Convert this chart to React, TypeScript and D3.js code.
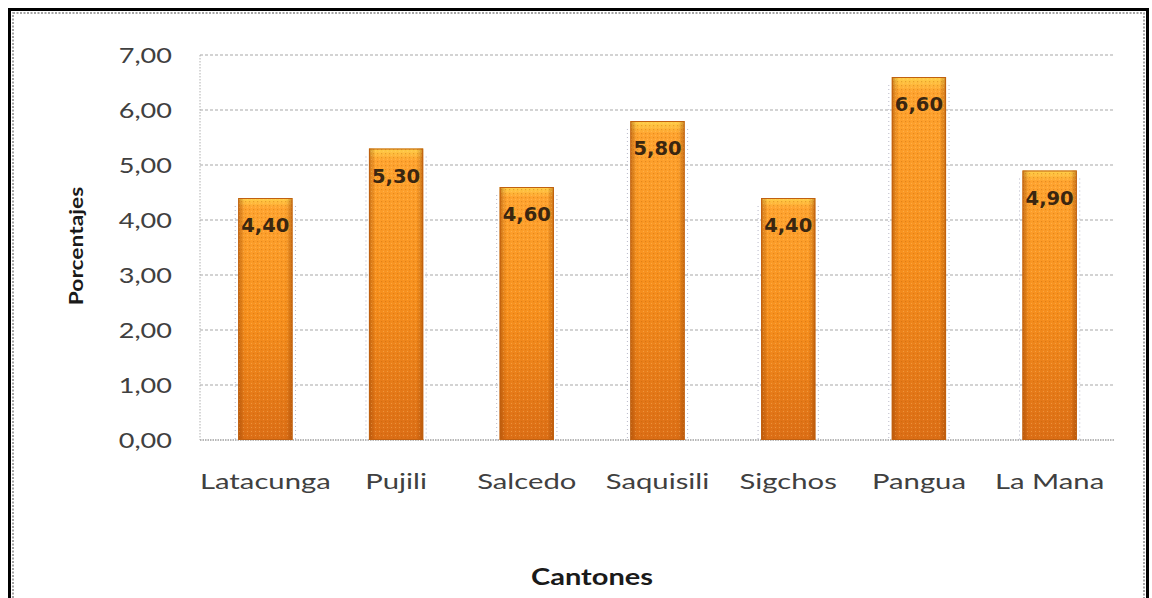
import React from "react";
import * as d3 from "d3";

const categories = ["Latacunga", "Pujili", "Salcedo", "Saquisili", "Sigchos", "Pangua", "La Mana"];
const values = [4.4, 5.3, 4.6, 5.8, 4.4, 6.6, 4.9];
const yTicks = [0, 1, 2, 3, 4, 5, 6, 7];

const W = 1152;
const H = 598;
const plot = { left: 200, right: 1115, top: 55, bottom: 440 };

const fmt = (v: number) => v.toFixed(2).replace(".", ",");

export default function App() {
  const x = d3
    .scaleBand<string>()
    .domain(categories)
    .range([plot.left, plot.right])
    .paddingInner(0.585)
    .paddingOuter(0.2925);
  const y = d3.scaleLinear().domain([0, 7]).range([plot.bottom, plot.top]);
  const font = "Lato, 'Open Sans', sans-serif";

  return (
    <svg
      width={W}
      height={H}
      style={{ position: "absolute", left: 0, top: 0, background: "#fff" }}
    >
      <defs>
        <linearGradient id="vert" x1="0" y1="0" x2="0" y2="1">
          <stop offset="0" stopColor="#FFD24A" />
          <stop offset="0.04" stopColor="#FFA430" />
          <stop offset="0.5" stopColor="#F7901E" />
          <stop offset="1" stopColor="#DC6E16" />
        </linearGradient>
        <linearGradient id="horiz" x1="0" y1="0" x2="1" y2="0">
          <stop offset="0" stopColor="#8A3A00" stopOpacity="0.45" />
          <stop offset="0.12" stopColor="#8A3A00" stopOpacity="0" />
          <stop offset="0.88" stopColor="#8A3A00" stopOpacity="0" />
          <stop offset="1" stopColor="#8A3A00" stopOpacity="0.45" />
        </linearGradient>
        <pattern id="dots" width="4" height="4" patternUnits="userSpaceOnUse">
          <rect x="1" y="1" width="1.2" height="1.2" fill="#B85A00" opacity="0.35" />
          <rect x="3" y="3" width="1" height="1" fill="#FFD080" opacity="0.35" />
        </pattern>
      </defs>

      {/* outer frame */}
      <rect x={9.5} y={9.5} width={1138} height={600} fill="none" stroke="#000" strokeWidth={3} />
      <rect x={13} y={13} width={1131} height={600} fill="none" stroke="#888" strokeWidth={1.5} strokeDasharray="2,1.5" />

      {/* gridlines */}
      {yTicks.map((t) => (
        <line
          key={t}
          x1={plot.left}
          x2={plot.right}
          y1={y(t)}
          y2={y(t)}
          stroke={t === 0 ? "#A0A0A0" : "#A8A8A8"}
          strokeWidth={t === 0 ? 1.5 : 1.2}
          strokeDasharray={t === 0 ? "1.5,1" : "3,2"}
        />
      ))}
      {/* y axis line */}
      <line x1={plot.left} x2={plot.left} y1={plot.top} y2={plot.bottom} stroke="#B0B0B0" strokeWidth={1} strokeDasharray="1.5,1.5" />

      {/* y tick labels */}
      {yTicks.map((t) => (
        <text
          key={t}
          transform={`translate(172, ${y(t)}) scale(1.23, 1)`}
          dy="0.36em"
          textAnchor="end"
          fontFamily={font}
          fontSize={22}
          fill="#404040"
        >
          {fmt(t)}
        </text>
      ))}

      {/* bars */}
      {categories.map((c, i) => {
        const bx = x(c)!;
        const bw = x.bandwidth();
        const top = y(values[i]);
        const h = plot.bottom - top;
        return (
          <g key={c}>
            <line x1={bx - 3} x2={bx - 3} y1={top + 8} y2={plot.bottom} stroke="#B8B8C8" strokeWidth={1} strokeDasharray="1,3" />
            <line x1={bx + bw + 3} x2={bx + bw + 3} y1={top + 8} y2={plot.bottom} stroke="#B8B8C8" strokeWidth={1} strokeDasharray="1,3" />
            <rect x={bx} y={top} width={bw} height={h} fill="url(#vert)" />
            <rect x={bx} y={top} width={bw} height={h} fill="url(#horiz)" />
            <rect x={bx} y={top} width={bw} height={h} fill="url(#dots)" />
            <rect x={bx + 0.5} y={top + 0.5} width={bw - 1} height={h - 1} fill="none" stroke="#C06010" strokeWidth={1} />
            <text
              x={bx + bw / 2}
              y={top + 34}
              textAnchor="middle"
              fontFamily="'DejaVu Sans', sans-serif"
              fontSize={19.5}
              fontWeight={600}
              fill="#3a2610"
            >
              {fmt(values[i])}
            </text>
          </g>
        );
      })}

      {/* category labels */}
      {categories.map((c) => (
        <text
          key={c}
          transform={`translate(${x(c)! + x.bandwidth() / 2}, 489) scale(1.33, 1)`}
          textAnchor="middle"
          fontFamily={font}
          fontSize={22}
          fill="#404040"
        >
          {c}
        </text>
      ))}

      {/* axis titles */}
      <text
        transform={`translate(83, 246) rotate(-90) scale(1.2, 1)`}
        textAnchor="middle"
        fontFamily={font}
        fontSize={19}
        fontWeight={700}
        fill="#1a1a1a"
      >
        Porcentajes
      </text>
      <text
        transform={`translate(592, 585) scale(1.32, 1)`}
        textAnchor="middle"
        fontFamily={font}
        fontSize={22}
        fontWeight={700}
        fill="#1a1a1a"
      >
        Cantones
      </text>
    </svg>
  );
}
